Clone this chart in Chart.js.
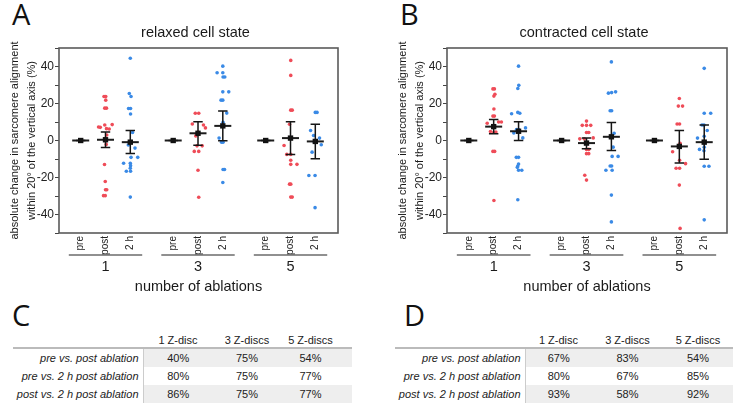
<!DOCTYPE html>
<html>
<head>
<meta charset="utf-8">
<script src="https://cdn.jsdelivr.net/npm/chart.js@4"></script>
<style>
body{margin:0;background:#fff;width:740px;height:404px;position:relative;overflow:hidden;font-family:"Liberation Sans",Arial,sans-serif;color:#222}
canvas{position:absolute;top:0}
.letter{position:absolute;font-family:"Open Sans",sans-serif;font-size:29px;line-height:29px;color:#111}
table{position:absolute;border-collapse:collapse;table-layout:fixed;font-size:11px;color:#222}
th{height:15px;padding:0;font-weight:normal;text-align:center;vertical-align:middle;border-bottom:2px solid #bbb}
td{height:18px;line-height:18px;padding:0;text-align:center}
td.lab{text-align:right;font-style:italic;padding-right:4px;border-right:1px solid #ccc}
tr.shade td.val{background:#eeeeee}
</style>
</head>
<body>
<div class="letter" style="left:12px;top:-1px">A</div>
<div class="letter" style="left:400px;top:-1px">B</div>
<div class="letter" style="left:12px;top:300px">C</div>
<div class="letter" style="left:404px;top:300px">D</div>
<canvas id="chartA" width="370" height="300" style="left:0"></canvas>
<canvas id="chartB" width="370" height="300" style="left:370px"></canvas>
<table id="tabC" style="left:13px;top:332px"></table>
<table id="tabD" style="left:395px;top:332px"></table>
<script>
// kategorien
const conditions = ['pre', 'post', '2 h'];
const ablations = ['1', '3', '5'];

// relaxed: einzelwerte [jitter, wert]
const relaxedPost1 = [[-0.06,23.8],[0.01,23.8],[0.01,21.8],[-0.03,17.5],[0.04,17.5],[-0.28,7.3],[-0.21,7.1],[-0.03,8.4],[0.27,8.6],[0.04,6.4],[0.15,6.2],[0.05,3.0],[-0.02,1.0],[0.03,-2.1],[-0.04,-13.0],[-0.01,-22.2],[0,-26.6],[0.05,-26.6],[-0.08,-29.8],[-0.01,-29.8]];
const relaxed2h1 = [[0,44.5],[-0.04,25.4],[0.03,23.8],[-0.07,17.3],[0.01,17.3],[0.01,14.3],[0.09,4.3],[-0.08,-2.4],[0.19,-4.1],[0.03,-9.1],[0.3,-9.1],[-0.27,-12.3],[0,-12.3],[0.01,-13.6],[0,-15.0],[-0.16,-16.6],[0.01,-16.6],[0,-30.6]];
const relaxedPost3 = [[-0.11,14.7],[0.03,14.7],[-0.23,8.9],[0.22,8.4],[0.3,6.8],[0,4.5],[-0.09,2.5],[-0.04,-2.9],[0.17,-2.9],[-0.15,-5.9],[0.03,-5.9],[0,-16.1],[0.03,-30.7]];
const relaxed2h3 = [[0,40.2],[-0.23,36.6],[0,36.6],[0.01,34.3],[0.08,34.3],[0,26.3],[0.24,26.3],[-0.07,21.8],[0,21.8],[0.16,14.8],[0.01,9.8],[-0.15,1.3],[-0.05,-0.9],[0.01,-0.9],[0.01,-15.7],[0.07,-15.7],[0,-22.7]];
const relaxedPost5 = [[0.01,43.3],[0.01,35.2],[0.01,16.4],[0.07,16.4],[-0.04,8.8],[-0.26,-2.7],[-0.15,-7.5],[0.01,-7.5],[0.01,-10.7],[0.01,-12.9],[0.26,-12.9],[-0.04,-23.6],[0.01,-23.6],[0.01,-30.6],[0.07,-30.6]];
const relaxed2h5 = [[0,15.2],[0.07,15.2],[-0.19,5.4],[-0.07,2.7],[0.17,1.3],[0.24,-2.3],[-0.03,-1.0],[-0.13,-6.3],[-0.26,-18.9],[-0.01,-18.9],[-0.01,-36.3]];

// contracted: einzelwerte [jitter, wert]
const contractedPost1 = [[-0.03,27.9],[0.03,27.9],[0.05,25.0],[0.01,24.0],[0.01,17.0],[-0.03,13.2],[0.03,13.2],[-0.26,9.3],[0.2,10.0],[0.31,10.0],[-0.13,4.8],[0.01,4.5],[0.09,4.6],[-0.03,-5.9],[0.04,-5.9],[0.01,-32.4]];
const contracted2h1 = [[0,40.2],[0.01,29.8],[-0.03,28.1],[-0.28,14.5],[-0.03,15.2],[0.05,14.7],[-0.08,5.9],[0,5.9],[0.28,6.8],[-0.19,4.1],[0.17,1.4],[-0.09,-9.1],[0,-9.1],[0,-12.7],[-0.03,-13.8],[-0.05,-14.5],[0,-16.1],[0.13,-16.1],[-0.03,-32.0]];
const contractedPost3 = [[0,10.5],[-0.17,8.2],[0,8.2],[0.17,8.2],[0,4.3],[0.09,4.3],[-0.27,0.9],[-0.09,0.9],[0.27,1.4],[0,-4.8],[0.09,-4.8],[0,-7.1],[0.09,-7.1],[-0.07,-18.8],[0,-21.4]];
const contracted2h3 = [[0,42.5],[-0.12,25.6],[0.01,25.9],[0.17,26.3],[-0.05,16.1],[0.01,16.1],[0.11,3.9],[0.07,-3.6],[0.03,-8.6],[0.27,-8.6],[-0.05,-13.8],[0.01,-13.8],[-0.22,-16.1],[0.03,-16.1],[0,-29.5],[0,-44.0]];
const contractedPost5 = [[0,22.7],[-0.04,18.6],[0.13,18.6],[-0.09,8.9],[0.01,8.9],[-0.27,-6.1],[0.03,-1.5],[0.01,-10.7],[0.25,-12.5],[-0.13,-15.0],[0.01,-15.0],[0,-24.1],[0.03,-47.5]];
const contracted2h5 = [[0,39.0],[0,14.7],[0.26,14.7],[-0.09,8.4],[-0.01,8.4],[0.12,5.4],[0,2.3],[-0.27,1.3],[0,-3.6],[-0.01,-5.5],[-0.19,-4.8],[0,-13.9],[0.19,-13.9],[0,-42.9]];

// mittelwerte und fehlerbalken (pre, post, 2 h je ablation)
const relaxedMean = [0, 0.4, -0.9, 0, 3.9, 7.9, 0, 1.3, -0.5];
const relaxedHigh = [0, 4.6, 5.4, 0, 10.2, 15.9, 0, 10.2, 8.8];
const relaxedLow = [0, -3.8, -7.0, 0, -2.5, -0.2, 0, -7.5, -9.8];
const contractedMean = [0, 7.5, 5.0, 0, -1.4, 2.0, 0, -3.2, -0.9];
const contractedHigh = [0, 11.4, 10.2, 0, 1.3, 9.7, 0, 5.4, 8.4];
const contractedLow = [0, 3.6, 0.0, 0, -4.5, -5.4, 0, -12.2, -10.2];

const yTicks = [-40, -20, 0, 20, 40];

// tabellen
const tableRows = ['pre vs. post ablation', 'pre vs. 2 h post ablation', 'post vs. 2 h post ablation'];
const tableCols = ['1 Z-disc', '3 Z-discs', '5 Z-discs'];
const tableC = [['40%','75%','54%'], ['80%','75%','77%'], ['86%','75%','77%']];
const tableD = [['67%','83%','54%'], ['80%','67%','85%'], ['93%','58%','92%']];

const FONT = '"Liberation Sans", Arial, sans-serif';
Chart.defaults.font.family = FONT;
Chart.defaults.color = '#222';

function slotX(i) {
    return Math.floor(i / 3) * 3.73 + (i % 3);
}

function toPoints(groups, cond) {
    const pts = [];
    groups.forEach((arr, g) => {
        arr.forEach(p => pts.push({ x: slotX(g * 3 + cond) + p[0], y: p[1] }));
    });
    return pts;
}

// rahmen, fehlerbalken, beschriftungen
function panelPlugin(cfg) {
    return {
        id: 'panel',
        afterDatasetsDraw(chart) {
            const ctx = chart.ctx, a = chart.chartArea;
            const x = chart.scales.x, y = chart.scales.y;
            ctx.save();
            ctx.strokeStyle = '#151515';
            ctx.lineWidth = 1.5;
            cfg.mean.forEach((m, i) => {
                const px = x.getPixelForValue(slotX(i));
                const cap = x.getPixelForValue(slotX(i) + 0.19) - px;
                const top = y.getPixelForValue(cfg.high[i]);
                const bot = y.getPixelForValue(cfg.low[i]);
                ctx.beginPath();
                ctx.moveTo(px, top); ctx.lineTo(px, bot);
                ctx.moveTo(px - cap, top); ctx.lineTo(px + cap, top);
                ctx.moveTo(px - cap, bot); ctx.lineTo(px + cap, bot);
                ctx.stroke();
            });
            ctx.strokeStyle = '#5a5a5a';
            ctx.lineWidth = 1.6;
            ctx.strokeRect(a.left, a.top, a.right - a.left, a.bottom - a.top);
            ctx.restore();
        },
        afterDraw(chart) {
            const ctx = chart.ctx, a = chart.chartArea, x = chart.scales.x;
            const cx = (a.left + a.right) / 2;
            const cy = (a.top + a.bottom) / 2;
            ctx.save();
            ctx.fillStyle = '#1a1a1a';
            ctx.textAlign = 'center';
            ctx.textBaseline = 'middle';
            ctx.font = '14.5px ' + FONT;
            ctx.fillText(cfg.title, cx - 3, 33);
            // gruppen
            ctx.strokeStyle = '#222';
            ctx.lineWidth = 1.2;
            ablations.forEach((lab, g) => {
                const x0 = x.getPixelForValue(slotX(g * 3) - 0.48);
                const x1 = x.getPixelForValue(slotX(g * 3 + 2) + 0.48);
                ctx.beginPath();
                ctx.moveTo(x0, a.bottom + 22);
                ctx.lineTo(x1, a.bottom + 22);
                ctx.stroke();
                ctx.font = '14.5px ' + FONT;
                ctx.fillText(lab, x.getPixelForValue(slotX(g * 3 + 1)), a.bottom + 34);
            });
            ctx.fillText('number of ablations', cx, a.bottom + 54);
            // y titel
            ctx.font = '11px ' + FONT;
            ctx.translate(a.left - 44, cy);
            ctx.rotate(-Math.PI / 2);
            ctx.fillText('absolute change in sarcomere alignment', 0, 0);
            ctx.fillText('within 20\u00b0 of the vertical axis (%)', 0, 17);
            ctx.restore();
        }
    };
}

function makeChart(id, cfg) {
    const groupsPost = cfg.post, groups2h = cfg.h2;
    const slots = [0, 1, 2, 3, 4, 5, 6, 7, 8];
    new Chart(document.getElementById(id), {
        type: 'scatter',
        data: {
            datasets: [
                {
                    data: cfg.mean.map((m, i) => ({ x: slotX(i), y: m })),
                    pointStyle: 'rect', radius: 3.8, backgroundColor: '#111', borderWidth: 0
                },
                {
                    data: cfg.mean.map((m, i) => ({ x: slotX(i), y: m })),
                    pointStyle: 'line', radius: 8.5, borderColor: '#1c1c1c', borderWidth: 2
                },
                {
                    data: toPoints(groupsPost, 1),
                    radius: 1.8, backgroundColor: '#ef4c58', borderWidth: 0
                },
                {
                    data: toPoints(groups2h, 2),
                    radius: 1.8, backgroundColor: '#3a8ae6', borderWidth: 0
                }
            ]
        },
        options: {
            responsive: false,
            animation: false,
            events: [],
            devicePixelRatio: 1,
            layout: { padding: { left: 0, right: cfg.rightPad, top: 48, bottom: 0 } },
            plugins: { legend: { display: false }, tooltip: { enabled: false } },
            scales: {
                x: {
                    type: 'linear',
                    min: -0.875,
                    max: 10.375,
                    afterBuildTicks: s => { s.ticks = slots.map(i => ({ value: slotX(i) })); },
                    afterFit: s => { s.height = 67; },
                    grid: { display: false, drawTicks: false, tickLength: 0 },
                    border: { display: false },
                    ticks: {
                        autoSkip: false, minRotation: 90, maxRotation: 90, padding: 3,
                        font: { size: 10 }, color: '#222',
                        callback: (v, i) => conditions[i % 3]
                    }
                },
                y: {
                    min: -50,
                    max: 50,
                    afterFit: s => { s.width = cfg.leftW; },
                    grid: { drawOnChartArea: false, tickLength: 4, color: '#444' },
                    border: { display: false },
                    ticks: {
                        stepSize: 10, padding: 1, font: { size: 12 }, color: '#222',
                        callback: v => yTicks.includes(v) ? v : ''
                    }
                }
            }
        },
        plugins: [panelPlugin(cfg)]
    });
}

makeChart('chartA', {
    title: 'relaxed cell state',
    post: [relaxedPost1, relaxedPost3, relaxedPost5],
    h2: [relaxed2h1, relaxed2h3, relaxed2h5],
    mean: relaxedMean, high: relaxedHigh, low: relaxedLow,
    leftW: 59, rightPad: 32
});
makeChart('chartB', {
    title: 'contracted cell state',
    post: [contractedPost1, contractedPost3, contractedPost5],
    h2: [contracted2h1, contracted2h3, contracted2h5],
    mean: contractedMean, high: contractedHigh, low: contractedLow,
    leftW: 77, rightPad: 13
});

// tabelle bauen
function buildTable(id, values, widths) {
    const t = document.getElementById(id);
    let html = '<colgroup>' + widths.map(w => '<col style="width:' + w + 'px">').join('') + '</colgroup>';
    html += '<tr><th></th>' + tableCols.map(c => '<th>' + c + '</th>').join('') + '</tr>';
    tableRows.forEach((r, i) => {
        html += '<tr' + (i % 2 === 0 ? ' class="shade"' : '') + '><td class="lab">' + r + '</td>' +
            values[i].map(v => '<td class="val">' + v + '</td>').join('') + '</tr>';
    });
    t.innerHTML = html;
    t.style.width = widths.reduce((s, w) => s + w, 0) + 'px';
}
buildTable('tabC', tableC, [130, 70, 68, 71]);
buildTable('tabD', tableD, [130, 67, 71, 70]);
document.querySelectorAll('#tabC tr td:last-child, #tabC tr th:last-child').forEach(c => c.style.paddingRight = '12px');
</script>
</body>
</html>
